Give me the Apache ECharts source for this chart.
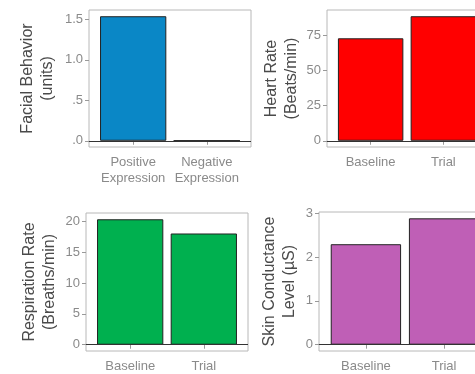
<!DOCTYPE html>
<html>
<head>
<meta charset="utf-8">
<script src="https://cdn.jsdelivr.net/npm/echarts@6/dist/echarts.min.js"></script>
<style>html,body{margin:0;padding:0;background:#fff;overflow:hidden;}#c{width:510px;height:374px;}</style>
</head>
<body>
<div id="c"></div>
<script>
const facialCats = ['Positive\nExpression', 'Negative\nExpression'];
const facialVals = [1.54, 0];
const facialTicks = [0, 0.5, 1.0, 1.5];
const facialTickLabels = ['.0', '.5', '1.0', '1.5'];

const condCats = ['Baseline', 'Trial'];
const heartVals = [72.9, 88.6];
const heartTicks = [0, 25, 50, 75];
const respVals = [20.3, 18.0];
const respTicks = [0, 5, 10, 15, 20];
const skinVals = [2.29, 2.88];
const skinTicks = [0, 1, 2, 3];

const panels = [
  {name: 'Facial Behavior\n(units)', cats: facialCats, vals: facialVals, ticks: facialTicks, tickLabels: facialTickLabels, color: '#0a87c6',
   grid: {left: 89, top: 10, width: 162, height: 137}, gap: 31},
  {name: 'Heart Rate\n(Beats/min)', cats: condCats, vals: heartVals, ticks: heartTicks, tickLabels: heartTicks.map(String), color: '#ff0000',
   grid: {left: 327, top: 10, width: 160, height: 137}, gap: 25},
  {name: 'Respiration Rate\n(Breaths/min)', cats: condCats, vals: respVals, ticks: respTicks, tickLabels: respTicks.map(String), color: '#00b04f',
   grid: {left: 86, top: 213, width: 162, height: 138}, gap: 26},
  {name: 'Skin Conductance\nLevel (µS)', cats: condCats, vals: skinVals, ticks: skinTicks, tickLabels: skinTicks.map(String), color: '#bf5fb6',
   grid: {left: 319, top: 212, width: 172, height: 140}, gap: 19}
];

const FONT = 'Liberation Sans';
const grids = [], xAxes = [], yAxes = [], series = [];
panels.forEach((p, i) => {
  grids.push(Object.assign({show: true, borderColor: '#b8b8b8', borderWidth: 1, backgroundColor: '#fff', containLabel: false}, p.grid));
  const xPos = p.cats.map((c, k) => k + 1);
  xAxes.push({
    type: 'value', gridIndex: i, min: 0.4, max: p.cats.length + 0.6,
    axisLine: {show: false}, splitLine: {show: false},
    axisTick: {show: true, customValues: xPos, length: 4, lineStyle: {color: '#999'}},
    axisLabel: {show: true, customValues: xPos, formatter: v => p.cats[Math.round(v) - 1],
      color: '#8a8a8a', fontFamily: FONT, fontSize: 13, lineHeight: 16, margin: 7}
  });
  const mx = Math.max.apply(null, p.vals);
  yAxes.push({
    type: 'value', gridIndex: i, min: -0.05 * mx, max: 1.05 * mx,
    name: p.name, nameLocation: 'middle', nameRotate: 90, nameGap: p.gap,
    nameTextStyle: {color: '#4a4a4a', fontFamily: FONT, fontSize: 16, lineHeight: 20, align: 'center'},
    axisLine: {show: false}, splitLine: {show: false},
    axisTick: {show: true, customValues: p.ticks, length: 4, lineStyle: {color: '#999'}},
    axisLabel: {show: true, customValues: p.ticks, formatter: v => {
        const k = p.ticks.findIndex(t => Math.abs(t - v) < 1e-9);
        return k >= 0 ? p.tickLabels[k] : '';
      }, color: '#8a8a8a', fontFamily: FONT, fontSize: 13, margin: 6}
  });
  series.push({
    type: 'bar', xAxisIndex: i, yAxisIndex: i,
    data: p.vals.map((v, k) => [xPos[k], v]),
    barWidth: '90%',
    itemStyle: {color: p.color, borderColor: '#222', borderWidth: 1},
    silent: true, animation: false,
    markLine: {silent: true, symbol: ['none', 'none'], label: {show: false}, animation: false,
      lineStyle: {color: '#333', width: 1, type: 'solid'}, data: [{yAxis: 0}]}
  });
});

const chart = echarts.init(document.getElementById('c'), null, {renderer: 'canvas'});
chart.setOption({backgroundColor: '#fff', animation: false, grid: grids, xAxis: xAxes, yAxis: yAxes, series: series});
</script>
</body>
</html>
